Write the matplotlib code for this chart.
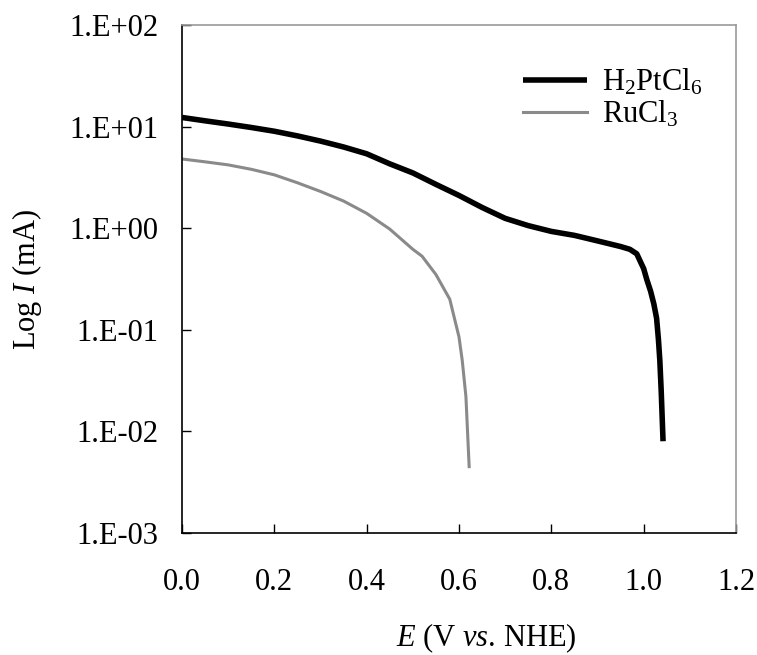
import matplotlib
matplotlib.use("Agg")
import matplotlib.pyplot as plt
from matplotlib.ticker import FixedLocator, NullLocator

plt.rcParams['font.family'] = ['Liberation Serif', 'DejaVu Serif']
plt.rcParams['mathtext.fontset'] = 'custom'
plt.rcParams['mathtext.rm'] = 'Liberation Serif'
plt.rcParams['mathtext.it'] = 'Liberation Serif:italic'

# Data
pt_E = [0.00, 0.05, 0.10, 0.15, 0.20, 0.25, 0.30, 0.35, 0.40, 0.45, 0.50, 0.55,
        0.60, 0.65, 0.70, 0.75, 0.80, 0.85, 0.90, 0.95, 0.97, 0.985, 1.00, 1.007,
        1.015, 1.022, 1.028, 1.032, 1.035, 1.038, 1.042]
pt_I = [12.3, 11.4, 10.6, 9.8, 9.0, 8.1, 7.2, 6.3, 5.4, 4.3, 3.5, 2.7,
        2.1, 1.6, 1.25, 1.06, 0.93, 0.85, 0.75, 0.66, 0.62, 0.56, 0.40, 0.31,
        0.24, 0.18, 0.13, 0.08, 0.05, 0.025, 0.008]
ru_E = [0.00, 0.05, 0.10, 0.15, 0.20, 0.25, 0.30, 0.35, 0.40, 0.45, 0.50, 0.52,
        0.55, 0.58, 0.60, 0.607, 0.615, 0.622]
ru_I = [4.8, 4.5, 4.2, 3.8, 3.35, 2.8, 2.3, 1.85, 1.4, 0.98, 0.62, 0.53,
        0.35, 0.20, 0.085, 0.05, 0.022, 0.0045]

series_labels = [r'H$_2$PtCl$_6$', r'RuCl$_3$']
x_ticks = [0.0, 0.2, 0.4, 0.6, 0.8, 1.0, 1.2]
x_ticklabels = ['0.0', '0.2', '0.4', '0.6', '0.8', '1.0', '1.2']
y_ticks = [1e-3, 1e-2, 1e-1, 1e0, 1e1, 1e2]
y_ticklabels = ['1.E-03', '1.E-02', '1.E-01', '1.E+00', '1.E+01', '1.E+02']

W, H = 757, 655
fig = plt.figure(figsize=(W / 100, H / 100), dpi=100)
ax = fig.add_axes([182 / W, 1 - 533 / H, (736 - 182) / W, (533 - 25) / H])

ax.plot(pt_E, pt_I, color='black', lw=4.0, label=series_labels[0],
        solid_joinstyle='round', solid_capstyle='butt')
ax.plot(ru_E, ru_I, color='#8a8a8a', lw=2.2, label=series_labels[1])

ax.set_yscale('log')
ax.set_xlim(0, 1.2)
ax.set_ylim(1e-3, 1e2)

ax.xaxis.set_major_locator(FixedLocator(x_ticks))
ax.set_xticklabels(x_ticklabels)
ax.yaxis.set_major_locator(FixedLocator(y_ticks))
ax.yaxis.set_minor_locator(NullLocator())
ax.set_yticklabels(y_ticklabels)

ax.tick_params(axis='both', direction='in', length=6.5, width=1.0, labelsize=22, color='black')
ax.tick_params(axis='x', pad=25.5)
ax.tick_params(axis='y', pad=17)

for s in ['left', 'bottom']:
    ax.spines[s].set_color('black')
    ax.spines[s].set_linewidth(1.2)
for s in ['top', 'right']:
    ax.spines[s].set_color('#999999')
    ax.spines[s].set_linewidth(1.2)

fig.text(27 / W, 1 - 279 / H, r'Log $I$ (mA)', rotation=90, ha='center', va='center', fontsize=22)
fig.text(486 / W, 1 - 646 / H, r'$E$ (V $vs$. NHE)', ha='center', va='baseline', fontsize=22)

leg = ax.legend(loc='upper left', bbox_to_anchor=((523 - 182) / 554, (533 - 67) / 508),
                frameon=False, fontsize=22, borderpad=0, borderaxespad=0,
                handlelength=2.1, handletextpad=0.5, labelspacing=0.05)

fig.savefig('out.png', dpi=100)
